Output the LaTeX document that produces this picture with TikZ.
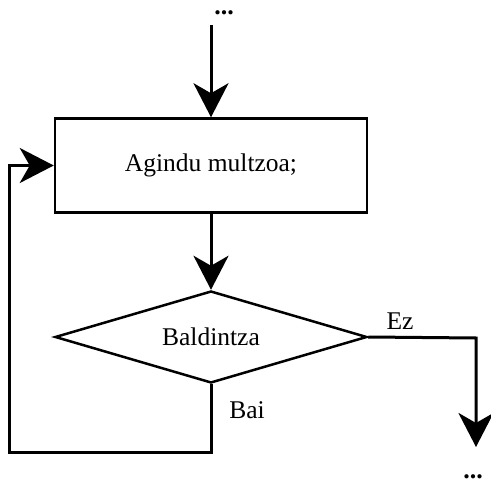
\documentclass[tikz,border=0pt]{standalone}
\usepackage{fontspec}
\setmainfont{Liberation Serif}
\usetikzlibrary{shapes.geometric,arrows.meta}
\tikzset{
  flow/.style={line width=3pt, -{Stealth[length=34pt,width=35pt,inset=10pt]}},
  stepbox/.style={draw, line width=2.5pt, rectangle, minimum width=312pt, minimum height=94pt, inner sep=0pt},
  decision/.style={draw, line width=2.5pt, diamond, minimum width=312pt, minimum height=92pt, inner sep=0pt, shape aspect=3.4},
  lbl/.style={inner sep=0pt, font=\fontsize{25.5}{28}\selectfont},
  dots/.style={inner sep=0pt, font=\fontsize{26}{28}\selectfont\bfseries}
}
\begin{document}
\begin{tikzpicture}[x=1pt,y=-1pt]
\useasboundingbox (0,0) rectangle (491,487);
\node[stepbox, font=\fontsize{25.5}{28}\selectfont] (box) at (211,165.5) {Agindu multzoa;};
\node[decision, font=\fontsize{25.5}{28}\selectfont] (cond) at (211,337) {Baldintza};
\node[dots] (topdots) at (224,13) {...};
\node[dots] (botdots) at (473,477) {...};
\node[lbl] (ez) at (400,321) {Ez};
\node[lbl] (bai) at (247,410) {Bai};
\coordinate (start) at (211,25);
\coordinate (rc) at (476,338);
\coordinate (endc) at (476,447);
\coordinate (lb) at (9,452);
\draw[flow] (start) -- (box.north);
\draw[flow] (box.south) -- (cond.north);
\draw[flow] (cond.east) -- (rc) -- (endc);
\draw[flow] (cond.south) |- (lb) |- (box.west);
\end{tikzpicture}
\end{document}
